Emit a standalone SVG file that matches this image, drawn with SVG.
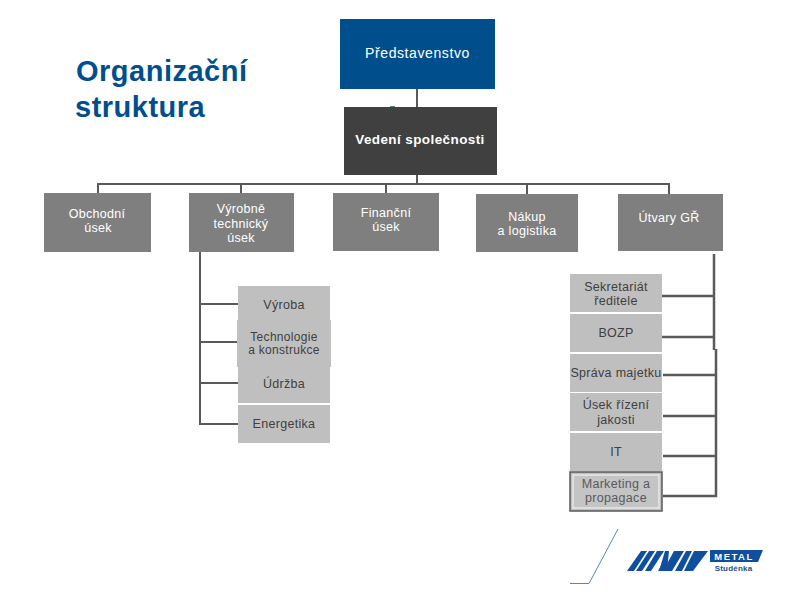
<svg xmlns="http://www.w3.org/2000/svg" width="794" height="595" viewBox="0 0 794 595">
<style>
text{font-family:"Liberation Sans",Arial,sans-serif;text-anchor:middle;font-size:12.500px;letter-spacing:.3px}
.l{fill:#fff}.d{fill:#404040}
.m{fill:#7f7f7f}.s{fill:#bfbfbf}
.c{fill:none;stroke:#595959;stroke-width:2}
.t{font-size:29px;font-weight:bold;fill:#004f8c;text-anchor:start;letter-spacing:.5px}
.b{fill:#0f4f9e}
</style>
<rect width="794" height="595" fill="#fff"/>
<g id="title"><text class="t" x="76" y="81">Organizační</text><text class="t" x="75" y="117">struktura</text></g>
<g id="connectors">
<path class="c" d="M417 89V107M417 175V184M97 184H670M98 184V193M241 184V193M386 184V193M527 184V194M669 184V194"/>
<path d="M390 106h5v1.500h-5z" fill="#4f7f70"/>
<path class="c" d="M200 252V424H238M200 304H238M200 342H237M200 383H238"/>
<path class="c" style="stroke-width:2.500" d="M662 296H714M662 337H714M663 375H716M663 416H716M663 456H716M714 254V350M716 349V496H663"/>
</g>
<g id="predstavenstvo"><rect x="340" y="19" width="155" height="70" fill="#004f8c"/><text class="l" x="417.500" y="58" style="font-size:14px;letter-spacing:.6px">Představenstvo</text></g>
<g id="vedeni"><rect x="344" y="107" width="153" height="68" fill="#404040"/><text class="l" x="420" y="144" style="font-size:13.500px;font-weight:bold;letter-spacing:.4px">Vedení společnosti</text></g>
<g id="obchodni"><rect class="m" x="44" y="193" width="107" height="59"/><text class="l" x="97" y="218">Obchodní</text><text class="l" x="98" y="232">úsek</text></g>
<g id="vyrobne"><rect class="m" x="189" y="193" width="105" height="59"/><text class="l" x="241" y="213">Výrobně</text><text class="l" x="241" y="228">technický</text><text class="l" x="241" y="242">úsek</text></g>
<g id="financni"><rect class="m" x="333" y="193" width="106" height="58"/><text class="l" x="386" y="217">Finanční</text><text class="l" x="386" y="231">úsek</text></g>
<g id="nakup"><rect class="m" x="476" y="194" width="102" height="58"/><text class="l" x="527" y="221">Nákup</text><text class="l" x="527" y="235">a logistika</text></g>
<g id="utvary"><rect class="m" x="618" y="194" width="105" height="57"/><text class="l" x="669" y="222">Útvary GŘ</text></g>
<g id="vyroba"><rect class="s" x="238" y="286" width="92" height="40"/><text class="d" x="284" y="309">Výroba</text></g>
<g id="udrzba"><rect class="s" x="238" y="360" width="92" height="43"/><text class="d" x="284" y="388">Údržba</text></g>
<g id="technologie"><rect class="s" x="237" y="320" width="94" height="47"/><text class="d" x="284" y="341" style="font-size:12px">Technologie</text><text class="d" x="284" y="354" style="font-size:12px">a konstrukce</text></g>
<g id="energetika"><rect class="s" x="238" y="405" width="92" height="38"/><text class="d" x="284" y="428">Energetika</text></g>
<g id="sekretariat"><rect class="s" x="570" y="274" width="92" height="38"/><text class="d" x="616" y="291">Sekretariát</text><text class="d" x="616" y="305">ředitele</text></g>
<g id="bozp"><rect class="s" x="570" y="314" width="92" height="38"/><text class="d" x="616" y="337">BOZP</text></g>
<g id="sprava"><rect class="s" x="570" y="354" width="92" height="38"/><text class="d" x="616" y="377">Správa majetku</text></g>
<g id="usek"><rect class="s" x="570" y="393" width="92" height="38"/><text class="d" x="616" y="409">Úsek řízení</text><text class="d" x="616" y="424">jakosti</text></g>
<g id="it"><rect class="s" x="570" y="433" width="92" height="38"/><text class="d" x="616" y="456">IT</text></g>
<g id="marketing"><rect x="570" y="472" width="92" height="39" fill="#bfbfbf" stroke="#595959" stroke-width="1.500"/><rect x="573" y="475" width="86" height="33" fill="#c4c4c4" stroke="#e8e8e8" stroke-width="1.500"/><text x="616" y="488" fill="#595959">Marketing a</text><text x="616" y="502" fill="#595959">propagace</text></g>
<g id="logo">
<path d="M570 583.500H589L618 529" fill="none" stroke="#5b86b0" stroke-width="1"/>
<polygon class="b" points="641,551 647,551 634,571 627,571"/>
<polygon class="b" points="649,551 655,551 642,571 636,571"/>
<polygon class="b" points="657,551 664,551 651,571 645,571"/>
<polygon class="b" points="665,551 669,551 667,571 659,571"/>
<polygon class="b" points="661,566 666,566 666,571 658,571" />
<polygon class="b" points="674,551 684,551 672,571 663,571"/>
<polygon class="b" points="686,551 692,551 682,571 675,571"/>
<polygon class="b" points="694,551 708,551 693,571 684,571"/>
<polygon class="b" points="710,550 763,550 758,562 710,562"/>
<text x="734" y="560" style="font-size:9.500px;font-weight:bold;letter-spacing:1.500px" fill="#fff">METAL</text>
<text x="733.500" y="571" style="font-size:8px;font-weight:bold;letter-spacing:.2px" fill="#1f4f80">Studénka</text>
</g>
</svg>
